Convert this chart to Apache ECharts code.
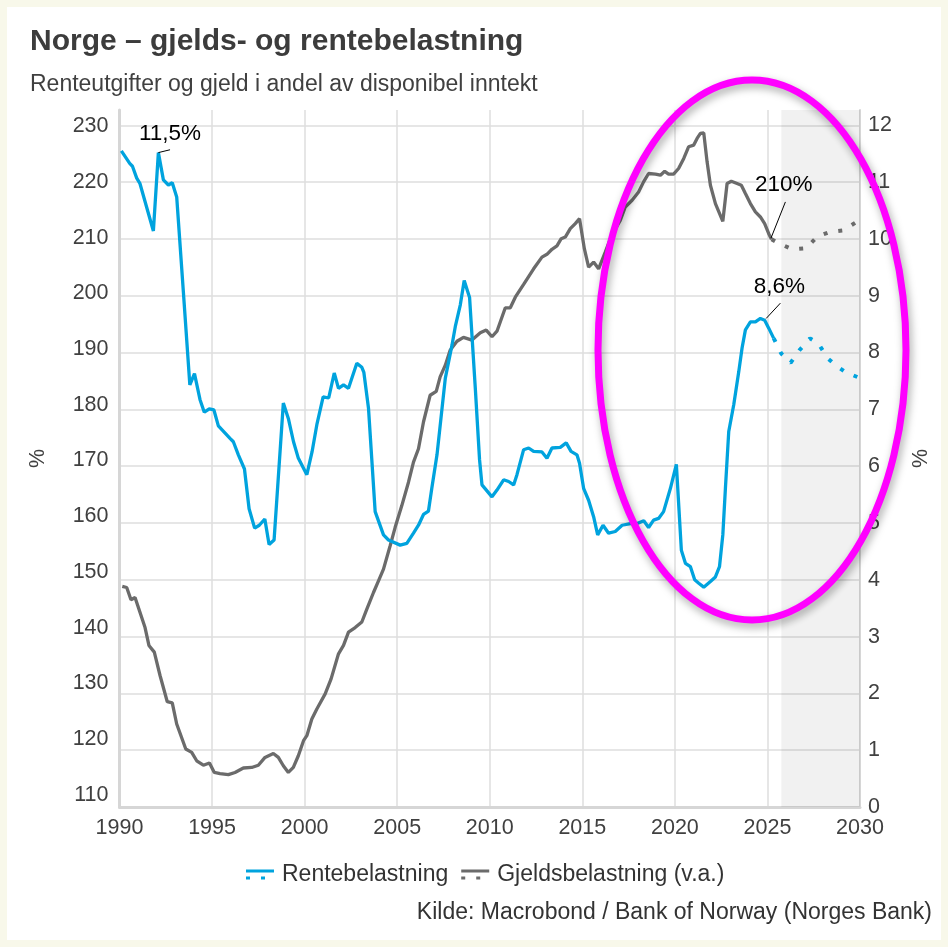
<!DOCTYPE html>
<html>
<head>
<meta charset="utf-8">
<script src="https://cdn.jsdelivr.net/npm/echarts@6/dist/echarts.min.js"></script>
<style>
  html, body { margin: 0; padding: 0; background: #fff; }
  #main { width: 948px; height: 947px; }
</style>
</head>
<body>
<div id="main"></div>
<script>
// Rentebelastning (h.a.), kvartalsvis [år, %]
const rente = [
    [1990.1,11.55],[1990.55,11.33],[1990.7,11.28],[1990.93,11.07],[1991.1,10.98],[1991.83,10.14],
    [1992.1,11.52],[1992.37,11.04],[1992.64,10.95],[1992.85,10.99],[1993.09,10.74],[1993.45,9.07],
    [1993.8,7.43],[1993.9,7.45],[1994.05,7.63],[1994.35,7.17],[1994.58,6.95],[1994.85,7.01],
    [1995.1,6.99],[1995.34,6.71],[1995.97,6.49],[1996.15,6.43],[1996.42,6.2],[1996.75,5.95],
    [1997.0,5.25],[1997.3,4.91],[1997.55,4.96],[1997.85,5.07],[1998.08,4.62],[1998.35,4.7],
    [1998.85,7.11],[1999.12,6.84],[1999.4,6.43],[1999.65,6.15],[2000.12,5.85],[2000.4,6.25],
    [2000.66,6.73],[2001.0,7.22],[2001.3,7.2],[2001.6,7.64],[2001.83,7.37],[2002.1,7.43],
    [2002.37,7.37],[2002.82,7.81],[2003.09,7.74],[2003.2,7.65],[2003.45,7.02],[2003.63,6.11],
    [2003.81,5.2],[2004.26,4.79],[2004.53,4.7],[2005.16,4.61],[2005.52,4.64],[2005.88,4.82],
    [2006.15,4.96],[2006.42,5.15],[2006.69,5.21],[2006.87,5.61],[2007.15,6.2],[2007.6,7.55],
    [2007.96,8.13],[2008.14,8.46],[2008.41,8.84],[2008.62,9.27],[2008.91,8.97],[2009.22,7.37],
    [2009.45,6.11],[2009.58,5.67],[2010.12,5.46],[2010.39,5.58],[2010.75,5.76],[2011.02,5.73],
    [2011.29,5.67],[2011.47,5.85],[2011.83,6.29],[2012.1,6.32],[2012.37,6.26],[2012.82,6.25],
    [2013.09,6.14],[2013.36,6.32],[2013.81,6.33],[2014.13,6.41],[2014.39,6.26],[2014.71,6.2],
    [2014.85,6.05],[2015.07,5.61],[2015.34,5.4],[2015.61,5.11],[2015.83,4.79],[2016.12,4.96],
    [2016.42,4.82],[2016.78,4.85],[2017.15,4.96],[2017.6,4.99],[2017.96,4.99],[2018.32,5.04],
    [2018.58,4.92],[2018.85,5.05],[2019.12,5.08],[2019.39,5.2],[2019.76,5.61],[2020.08,6.03],
    [2020.35,4.52],[2020.57,4.29],[2020.84,4.23],[2021.07,4.0],[2021.29,3.94],[2021.56,3.87],
    [2021.92,3.97],[2022.19,4.05],[2022.41,4.23],[2022.59,4.79],[2022.73,5.61],[2022.91,6.61],
    [2023.18,7.08],[2023.45,7.66],[2023.63,8.08],[2023.81,8.4],[2024.08,8.54],[2024.35,8.54],
    [2024.62,8.6],[2024.85,8.57],[2025.07,8.43],[2025.34,8.25]
];
// Rentebelastning, prognose
const renteProg = [
    [2025.34,8.25],[2025.75,7.98],[2026.25,7.82],[2026.75,8.05],[2027.3,8.25],[2027.75,8.16],
    [2028.25,7.9],[2028.75,7.76],[2029.25,7.65],[2030,7.55]
];
// Gjeldsbelastning (v.a.)
const gjeld = [
    [1990.15,147.4],[1990.39,147.2],[1990.62,145.0],[1990.84,145.4],[1991.11,142.7],[1991.38,140.0],
    [1991.59,136.8],[1991.88,135.6],[1992.19,131.4],[1992.58,126.7],[1992.85,126.5],[1993.09,122.7],
    [1993.58,118.2],[1993.9,117.6],[1994.17,116.1],[1994.53,115.3],[1994.86,115.7],[1995.12,114.0],
    [1995.43,113.8],[1995.88,113.6],[1996.24,114.0],[1996.69,114.8],[1997.14,114.9],[1997.5,115.3],
    [1997.86,116.7],[1998.31,117.4],[1998.58,116.7],[1998.85,115.2],[1999.12,114.0],[1999.39,114.9],
    [1999.66,117.0],[1999.94,119.7],[2000.12,120.6],[2000.39,123.6],[2000.66,125.4],[2001.11,128.1],
    [2001.43,130.8],[2001.83,135.3],[2002.1,136.8],[2002.37,139.2],[2002.73,140.0],[2003.09,141.0],
    [2003.36,143.3],[2003.72,146.3],[2003.99,148.4],[2004.26,150.5],[2004.62,154.7],[2004.89,158.0],
    [2005.25,161.9],[2005.61,166.1],[2005.88,169.7],[2006.15,172.1],[2006.42,176.9],[2006.78,181.7],
    [2007.11,182.4],[2007.32,185.0],[2007.6,187.1],[2007.86,189.8],[2008.23,191.4],[2008.58,192.1],
    [2009.04,191.6],[2009.49,192.9],[2009.81,193.4],[2010.12,192.2],[2010.39,193.2],[2010.84,197.4],
    [2011.11,197.4],[2011.38,199.3],[2011.83,201.6],[2012.37,204.4],[2012.82,206.5],[2013.09,207.0],
    [2013.36,207.9],[2013.63,208.5],[2013.86,209.8],[2014.08,210.1],[2014.35,211.6],[2014.62,212.5],
    [2014.85,213.4],[2015.11,208.0],[2015.34,204.7],[2015.61,205.6],[2015.88,204.4],[2016.24,207.4],
    [2016.6,210.5],[2017.05,213.1],[2017.32,215.5],[2017.69,216.7],[2018.04,218.2],[2018.31,220.0],
    [2018.58,221.5],[2018.95,221.4],[2019.22,221.2],[2019.45,221.9],[2019.66,221.4],[2019.93,221.4],
    [2020.2,222.4],[2020.48,224.2],[2020.74,226.3],[2021.02,226.6],[2021.2,227.8],[2021.38,228.7],
    [2021.56,228.8],[2021.74,223.6],[2021.92,219.4],[2022.19,216.1],[2022.59,212.9],[2022.82,219.7],
    [2023.05,220.1],[2023.36,219.7],[2023.59,219.4],[2023.81,217.9],[2024.08,216.1],[2024.35,214.6],
    [2024.62,213.7],[2024.85,212.5],[2025.07,210.7],[2025.22,209.7]
];
// Gjeldsbelastning, prognose
const gjeldProg = [
    [2025.22,209.7],[2025.6,209.0],[2026.35,207.9],[2027.1,208.1],[2027.7,210.2],[2028.35,211.0],
    [2029.1,211.3],[2030,213.2]
];
const leftTicks = [110,120,130,140,150,160,170,180,190,200,210,220,230];
const progStart = 2025.75;

const BLUE = '#00a3de', GREY = '#6b6b6b', TXT = '#404040';
const FONT = '"Liberation Sans", Arial, sans-serif';
const legendIcon = 'path://M0,0H28V3H0Z M0,7H4V10H0Z M15,7H19V10H15Z';

const chart = echarts.init(document.getElementById('main'));

// liten etikett med strek fra datapunkt
function note(p0, p1, txt, at) {
    return {
        markLine: {
            silent: true, symbol: 'none', animation: false,
            lineStyle: { color: '#000', width: 1, type: 'solid' },
            label: { show: false },
            data: [[{ coord: p0 }, { coord: p1 }]]
        },
        markPoint: {
            silent: true, animation: false, symbol: 'circle', symbolSize: 1,
            itemStyle: { color: 'rgba(0,0,0,0)' },
            label: { show: true, position: 'inside', color: '#000', fontSize: 22.5, fontFamily: FONT, formatter: txt },
            data: [{ coord: at }]
        }
    };
}

chart.setOption({
    animation: false,
    textStyle: { fontFamily: FONT },
    title: [
        { text: 'Norge – gjelds- og rentebelastning', left: 25, top: 22,
          textStyle: { fontSize: 30, fontWeight: 'bold', color: '#3c3c3c', fontFamily: FONT } },
        { text: 'Renteutgifter og gjeld i andel av disponibel inntekt', left: 25, top: 68,
          textStyle: { fontSize: 23, fontWeight: 'normal', color: TXT, fontFamily: FONT } },
        { text: 'Kilde: Macrobond / Bank of Norway (Norges Bank)', right: 11, top: 896,
          textStyle: { fontSize: 23, fontWeight: 'normal', color: '#333', fontFamily: FONT } }
    ],
    legend: {
        left: 241, top: 858, itemWidth: 28, itemHeight: 10, itemGap: 13,
        icon: legendIcon,
        textStyle: { fontSize: 23, color: '#333', fontFamily: FONT, padding: [0, 0, 0, 3] },
        data: ['Rentebelastning', 'Gjeldsbelastning (v.a.)']
    },
    grid: { left: 119.5, right: 88, top: 110, bottom: 140 },
    xAxis: {
        type: 'value', min: 1990, max: 2030, interval: 5,
        axisLine: { lineStyle: { color: '#d6d6d6', width: 3 } },
        axisTick: { show: false },
        axisLabel: { fontSize: 21.5, color: TXT, margin: 10, formatter: v => String(v) },
        splitLine: { show: true, lineStyle: { color: '#dedede', width: 1.5 } }
    },
    yAxis: [
        {
            type: 'value', min: 107.8, max: 232.9, position: 'left',
            name: '%', nameLocation: 'middle', nameRotate: 90, nameGap: 70,
            nameTextStyle: { fontSize: 21.5, color: TXT },
            axisLine: { show: true, lineStyle: { color: '#d6d6d6', width: 3 } },
            axisTick: { show: false },
            axisLabel: { fontSize: 21.5, color: TXT, margin: 11, customValues: leftTicks },
            splitLine: { show: false }
        },
        {
            type: 'value', min: 0, max: 12.27, interval: 1, position: 'right',
            name: '%', nameLocation: 'middle', nameRotate: 90, nameGap: 50,
            nameTextStyle: { fontSize: 21.5, color: TXT },
            axisLine: { show: true, lineStyle: { color: '#d6d6d6', width: 2 } },
            axisTick: { show: false },
            axisLabel: { fontSize: 21.5, color: TXT, margin: 8, showMaxLabel: false,
                formatter: v => Number.isInteger(v) ? v : '' },
            splitLine: { show: true, showMaxLine: false, lineStyle: { color: '#dedede', width: 1.5 } }
        }
    ],
    series: [
        Object.assign({
            name: 'Gjeldsbelastning (v.a.)', type: 'line', yAxisIndex: 0, data: gjeld,
            showSymbol: false, color: GREY, lineStyle: { color: GREY, width: 3.3 }, z: 3
        }, note([2025.19, 209.9], [2025.97, 216.4], '210%', [2025.88, 219.4])),
        {
            name: 'Gjeldsbelastning (v.a.)', type: 'line', yAxisIndex: 0, data: gjeldProg,
            showSymbol: false, color: GREY, z: 3,
            lineStyle: { color: GREY, width: 4, type: [4, 11], cap: 'butt' },
            markArea: {
                silent: true, itemStyle: { color: 'rgba(0,0,0,0.055)' },
                data: [[{ xAxis: progStart }, { xAxis: 2030 }]]
            }
        },
        Object.assign({
            name: 'Rentebelastning', type: 'line', yAxisIndex: 1, data: rente,
            showSymbol: false, color: BLUE, lineStyle: { color: BLUE, width: 3.3 }, z: 4
        }, note([1992.1, 11.52], [1992.73, 11.57], '11,5%', [1992.73, 11.85])),
        Object.assign({
            name: 'Rentebelastning', type: 'line', yAxisIndex: 1, data: renteProg,
            showSymbol: false, color: BLUE, z: 4,
            lineStyle: { color: BLUE, width: 4, type: [4, 11], cap: 'butt' }
        }, note([2024.93, 8.6], [2025.7, 8.87], '8,6%', [2025.65, 9.15]))
    ],
    graphic: [
        {
            type: 'rect', z: 0, silent: true,
            shape: { x: 3, y: 3, width: 942, height: 941 },
            style: { fill: 'none', stroke: '#f8f8ea', lineWidth: 8 }
        },
        {
            type: 'ellipse', z: 100, silent: true,
            shape: { cx: 752, cy: 350, rx: 154, ry: 270 },
            style: { fill: 'none', stroke: '#ff00ff', lineWidth: 7,
                shadowBlur: 8, shadowColor: 'rgba(0,0,0,0.35)', shadowOffsetX: 2, shadowOffsetY: 4 }
        }
    ]
});
</script>
</body>
</html>
